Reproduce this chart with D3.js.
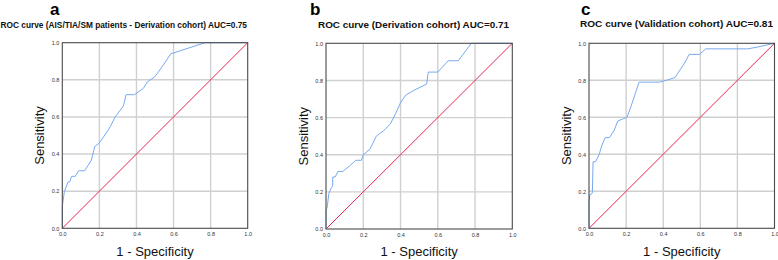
<!DOCTYPE html>
<html>
<head>
<meta charset="utf-8">
<script src="https://cdn.jsdelivr.net/npm/d3@7"></script>
<style>
  body { margin: 0; background: #fff; }
  text { font-family: "Liberation Sans", Arial, sans-serif; }
</style>
</head>
<body>
<div id="chart"></div>
<script>
const width = 778;
const height = 260;

// ROC data (1 - specificity, sensitivity)
const fprA = [0, 0, 0.011, 0.031, 0.04, 0.05, 0.07, 0.088, 0.12, 0.14, 0.157, 0.175, 0.2, 0.248, 0.26, 0.285, 0.33, 0.344, 0.39, 0.437, 0.46, 0.5, 0.545, 0.585, 0.77, 1.0];
const tprA = [0, 0.117, 0.197, 0.25, 0.25, 0.28, 0.28, 0.31, 0.31, 0.34, 0.368, 0.44, 0.46, 0.53, 0.55, 0.6, 0.66, 0.72, 0.72, 0.754, 0.79, 0.817, 0.88, 0.94, 1.0, 1.0];

const fprB = [0, 0, 0.007, 0.015, 0.027, 0.036, 0.036, 0.049, 0.064, 0.09, 0.127, 0.16, 0.19, 0.2, 0.236, 0.27, 0.31, 0.345, 0.373, 0.4, 0.427, 0.478, 0.54, 0.549, 0.6, 0.656, 0.71, 0.78, 1.0];
const tprB = [0, 0.1, 0.12, 0.19, 0.22, 0.23, 0.28, 0.28, 0.31, 0.31, 0.34, 0.37, 0.37, 0.4, 0.43, 0.5, 0.53, 0.565, 0.62, 0.68, 0.72, 0.75, 0.78, 0.845, 0.845, 0.906, 0.906, 1.0, 1.0];

const fprC = [0, 0, 0.004, 0.018, 0.022, 0.036, 0.055, 0.07, 0.087, 0.11, 0.136, 0.155, 0.18, 0.205, 0.227, 0.25, 0.27, 0.38, 0.418, 0.464, 0.48, 0.515, 0.54, 0.596, 0.63, 0.856, 0.91, 1.0];
const tprC = [0, 0.14, 0.18, 0.19, 0.36, 0.36, 0.4, 0.45, 0.49, 0.49, 0.53, 0.58, 0.59, 0.6, 0.66, 0.73, 0.79, 0.79, 0.8, 0.815, 0.84, 0.893, 0.94, 0.94, 0.97, 0.97, 0.98, 1.0];

const tickValues = [0, 0.2, 0.4, 0.6, 0.8, 1.0];
const tickLabels = ['0.0', '0.2', '0.4', '0.6', '0.8', '1.0'];

const letters = ['a', 'b', 'c'];
const titles = [
  'ROC curve (AIS/TIA/SM patients - Derivation cohort) AUC=0.75',
  'ROC curve (Derivation cohort) AUC=0.71',
  'ROC curve (Validation cohort) AUC=0.81'
];

// panel placement in pixels
const panels = [
  {left: 62.3, right: 247.7, top: 42.7, bottom: 228.3, fpr: fprA, tpr: tprA,
   letterX: 50, letterY: 15, titleX: 0.5, titleW: 246.5, titleY: 27.5},
  {left: 326, right: 512.3, top: 43.3, bottom: 229, fpr: fprB, tpr: tprB,
   letterX: 310, letterY: 15, titleX: 318, titleW: 191, titleY: 27.5},
  {left: 589, right: 774.5, top: 43.3, bottom: 228.3, fpr: fprC, tpr: tprC,
   letterX: 581, letterY: 15, titleX: 580, titleW: 193, titleY: 27}
];

const svg = d3.select('#chart')
  .append('svg')
  .attr('width', width)
  .attr('height', height);

panels.forEach((p, i) => {
  const x = d3.scaleLinear().domain([0, 1]).range([p.left, p.right]);
  const y = d3.scaleLinear().domain([0, 1]).range([p.bottom, p.top]);
  const g = svg.append('g');

  // grid
  g.selectAll('.vgrid')
    .data(tickValues.slice(1, -1))
    .join('line')
      .attr('class', 'vgrid')
      .attr('x1', d => x(d)).attr('x2', d => x(d))
      .attr('y1', p.top).attr('y2', p.bottom)
      .attr('stroke', '#d0d0d0')
      .attr('stroke-width', 1.4);
  g.selectAll('.hgrid')
    .data(tickValues.slice(1, -1))
    .join('line')
      .attr('class', 'hgrid')
      .attr('y1', d => y(d)).attr('y2', d => y(d))
      .attr('x1', p.left).attr('x2', p.right)
      .attr('stroke', '#d0d0d0')
      .attr('stroke-width', 1.4);

  // reference diagonal
  g.append('line')
    .attr('x1', x(0)).attr('y1', y(0))
    .attr('x2', x(1)).attr('y2', y(1))
    .attr('stroke', '#e8274f')
    .attr('stroke-width', 1);

  // roc curve
  const pts = p.fpr.map((v, k) => [v, p.tpr[k]]);
  g.append('path')
    .datum(pts)
    .attr('fill', 'none')
    .attr('stroke', '#77aaf0')
    .attr('stroke-width', 1)
    .attr('d', d3.line().x(d => x(d[0])).y(d => y(d[1])));

  // frame
  g.append('rect')
    .attr('x', p.left).attr('y', p.top)
    .attr('width', p.right - p.left)
    .attr('height', p.bottom - p.top)
    .attr('fill', 'none')
    .attr('stroke', '#4a4a4a')
    .attr('stroke-width', 1.1);

  // tick labels
  const xAxis = d3.axisBottom(x)
    .tickValues(tickValues)
    .tickFormat((d, k) => tickLabels[k])
    .tickSize(0)
    .tickPadding(4);
  const yAxis = d3.axisLeft(y)
    .tickValues(tickValues)
    .tickFormat((d, k) => tickLabels[k])
    .tickSize(0)
    .tickPadding(3);
  g.append('g')
    .attr('transform', `translate(0,${p.bottom})`)
    .call(xAxis)
    .call(a => a.select('.domain').remove())
    .selectAll('text')
      .attr('font-size', 5.5)
      .attr('font-family', '"Liberation Sans", Arial, sans-serif')
      .attr('fill', '#333');
  g.append('g')
    .attr('transform', `translate(${p.left},0)`)
    .call(yAxis)
    .call(a => a.select('.domain').remove())
    .selectAll('text')
      .attr('font-size', 5.5)
      .attr('font-family', '"Liberation Sans", Arial, sans-serif')
      .attr('fill', '#333');

  // axis titles
  g.append('text')
    .attr('x', (p.left + p.right) / 2)
    .attr('y', 255.5)
    .attr('text-anchor', 'middle')
    .attr('font-size', 13)
    .attr('fill', '#111')
    .text('1 - Specificity');
  g.append('text')
    .attr('transform', `translate(${p.left - 18.5},${(p.top + p.bottom) / 2}) rotate(-90)`)
    .attr('text-anchor', 'middle')
    .attr('font-size', 13)
    .attr('fill', '#111')
    .text('Sensitivity');

  // panel letter and title
  svg.append('text')
    .attr('x', p.letterX)
    .attr('y', p.letterY)
    .attr('font-size', 17)
    .attr('font-weight', 'bold')
    .attr('fill', '#000')
    .text(letters[i]);
  svg.append('text')
    .attr('x', p.titleX)
    .attr('y', p.titleY)
    .attr('font-size', 8.5)
    .attr('font-weight', 'bold')
    .attr('fill', '#111')
    .attr('textLength', p.titleW)
    .attr('lengthAdjust', 'spacingAndGlyphs')
    .text(titles[i]);
});
</script>
</body>
</html>
